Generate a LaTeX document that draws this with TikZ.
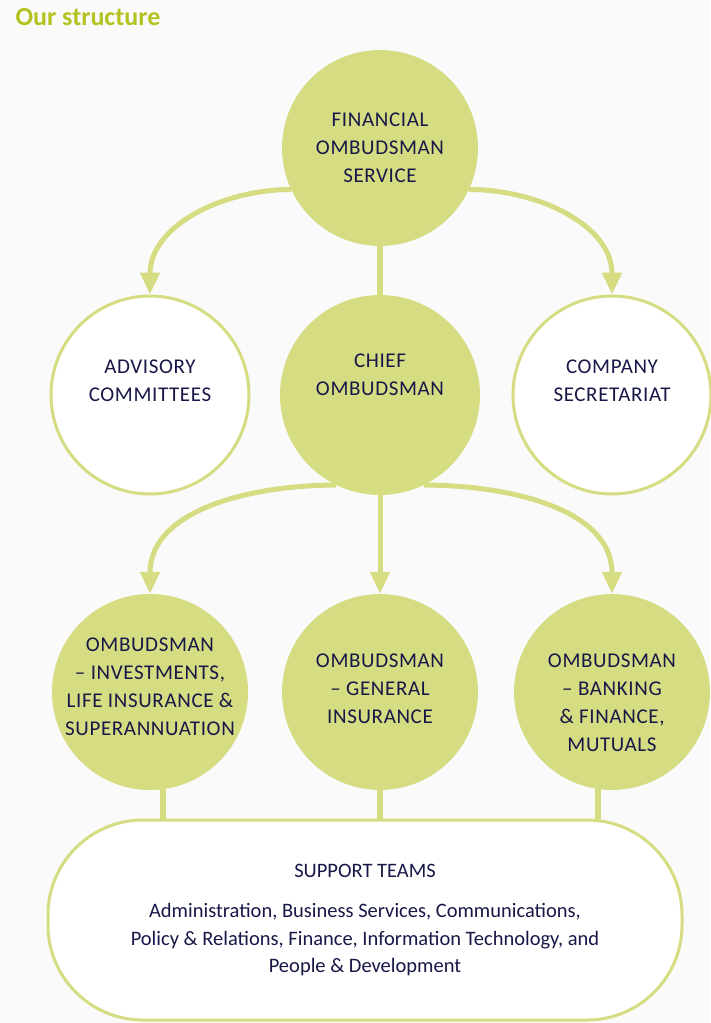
\documentclass[tikz,border=0pt]{standalone}
\usepackage{fontspec}
\setmainfont{Carlito}
\newfontfamily\capsfont[LetterSpace=3]{Carlito}
\usepackage{tikz}
\usetikzlibrary{positioning,arrows.meta,backgrounds}

\definecolor{leaf}{RGB}{213,220,130}
\definecolor{leafdark}{RGB}{180,194,32}
\definecolor{ink}{RGB}{24,24,72}
\definecolor{paper}{RGB}{250,250,250}

\begin{document}
\begin{tikzpicture}[
  x=1pt, y=-1pt,
  unit/.style={circle, fill=leaf, minimum size=196pt, inner sep=0pt},
  board/.style={circle, draw=leaf, line width=3pt, fill=white, minimum size=198pt, inner sep=0pt},
  caption/.style={align=center, text=ink, font=\capsfont\fontsize{21}{28}\selectfont},
  arrow/.style={draw=leaf, line width=5pt, -{Triangle[width=19pt,length=22pt]}},
  link/.style={draw=leaf, line width=6pt}
]
  \useasboundingbox (0,0) rectangle (710,1023);

  \node[anchor=west, text=leafdark, font=\bfseries\fontsize{26}{30}\selectfont] (title) at (12,17) {Our structure};

  % top level
  \node[unit] (fos) at (380,148) {};
  \node[caption] (fos-text) at (fos.center) {FINANCIAL\\OMBUDSMAN\\SERVICE};

  % second row
  \node[board] (adv) at (150,395) {};
  \node[unit, minimum size=200pt] (chief) at (380,395) {};
  \node[board] (sec) at (612,395) {};
  \node[caption] (adv-text) at ([yshift=14pt]adv.center) {ADVISORY\\COMMITTEES};
  \node[caption] (chief-text) at ([yshift=20pt]chief.center) {CHIEF\\OMBUDSMAN};
  \node[caption] (sec-text) at ([yshift=14pt]sec.center) {COMPANY\\SECRETARIAT};

  % ombudsman teams
  \node[unit] (inv) at (150,692) {};
  \node[unit] (gen) at (380,692) {};
  \node[unit] (bank) at (612,692) {};
  \node[caption] (inv-text) at ([yshift=5pt]inv.center) {OMBUDSMAN\\– INVESTMENTS,\\LIFE INSURANCE \&\\SUPERANNUATION};
  \node[caption] (gen-text) at ([yshift=3pt]gen.center) {OMBUDSMAN\\– GENERAL\\INSURANCE};
  \node[caption] (bank-text) at ([yshift=-11pt]bank.center) {OMBUDSMAN\\– BANKING\\\& FINANCE,\\MUTUALS};

  % support teams
  \node[rectangle, rounded corners=95pt, draw=leaf, line width=3pt, fill=white,
        minimum width=634pt, minimum height=200pt, align=center, text=ink,
        font=\fontsize{20.5}{27.5}\selectfont] (support) at (365,920)
    {SUPPORT TEAMS\\[13pt]
     Administration, Business Services, Communications,\\
     Policy \& Relations, Finance, Information Technology, and\\
     People \& Development};

  \begin{scope}[on background layer]
    \fill[paper] (0,0) rectangle (710,1023);
    \draw[link] (fos) -- (chief);
    \draw[arrow] (fos.205) to[out=180, in=90] (adv.north);
    \draw[arrow] (fos.-25) to[out=0, in=90] (sec.north);
    \draw[arrow] (chief.244) to[out=180, in=90] (inv.north);
    \draw[arrow] (chief.south) -- (gen.north);
    \draw[arrow] (chief.-64) to[out=0, in=90] (bank.north);
    \draw[link] ([xshift=13pt]inv.center) -- ([xshift=13pt]inv.center |- support.north);
    \draw[link] (gen.center) -- (gen.center |- support.north);
    \draw[link] ([xshift=-14pt]bank.center) -- ([xshift=-14pt]bank.center |- support.north);
  \end{scope}
\end{tikzpicture}
\end{document}
